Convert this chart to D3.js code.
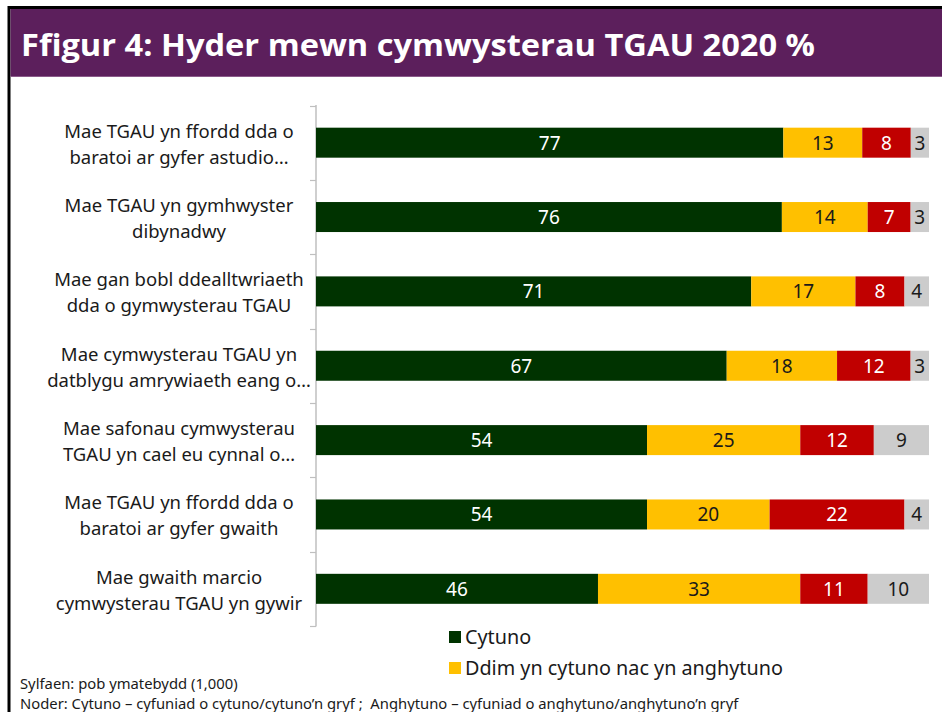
<!DOCTYPE html>
<html>
<head>
<meta charset="utf-8">
<script src="https://cdn.jsdelivr.net/npm/d3@7"></script>
<style>
  body { margin: 0; background: #fff; }
  svg { display: block; font-family: "Noto Sans", "Open Sans", sans-serif; }
</style>
</head>
<body>
<svg width="942" height="712"></svg>
<script>
// categories (two-line labels)
var categories = [
  ["Mae TGAU yn ffordd dda o", "baratoi ar gyfer astudio…"],
  ["Mae TGAU yn gymhwyster", "dibynadwy"],
  ["Mae gan bobl ddealltwriaeth", "dda o gymwysterau TGAU"],
  ["Mae cymwysterau TGAU yn", "datblygu amrywiaeth eang o…"],
  ["Mae safonau cymwysterau", "TGAU yn cael eu cynnal o…"],
  ["Mae TGAU yn ffordd dda o", "baratoi ar gyfer gwaith"],
  ["Mae gwaith marcio", "cymwysterau TGAU yn gywir"]
];
var seriesNames = ["Cytuno", "Ddim yn cytuno nac yn anghytuno", "Anghytuno", "Ddim yn gwybod"];
var cytuno     = [77, 76, 71, 67, 54, 54, 46];
var ddim       = [13, 14, 17, 18, 25, 20, 33];
var anghytuno  = [8, 7, 8, 12, 12, 22, 11];
var ddimGwybod = [3, 3, 4, 3, 9, 4, 10];
var colors = ["#003300", "#ffc000", "#c00000", "#cccccc"];
var textColors = ["#fff", "#1a1a1a", "#fff", "#1a1a1a"];

var svg = d3.select("svg");

// frame + title band
svg.append("line").attr("x1", 9).attr("x2", 942).attr("y1", 7.5).attr("y2", 7.5)
  .attr("stroke", "#000").attr("stroke-width", 3);
svg.append("line").attr("x1", 9).attr("x2", 9).attr("y1", 6).attr("y2", 712)
  .attr("stroke", "#000").attr("stroke-width", 3);
svg.append("rect").attr("x", 10.5).attr("y", 9).attr("width", 932).attr("height", 67)
  .attr("fill", "#5c1f5c");
svg.append("line").attr("x1", 10.5).attr("x2", 942).attr("y1", 76.5).attr("y2", 76.5)
  .attr("stroke", "#8a5a8a").attr("stroke-width", 1);
svg.append("text").attr("x", 21).attr("y", 56)
  .attr("fill", "#fff").attr("font-size", 31).attr("font-weight", "bold")
  .attr("font-family", "'Open Sans', sans-serif")
  .attr("textLength", 794).attr("lengthAdjust", "spacingAndGlyphs")
  .text("Ffigur 4: Hyder mewn cymwysterau TGAU 2020 %");

// build stacked, normalised rows
var rows = categories.map(function(c, i) {
  var vals = [cytuno[i], ddim[i], anghytuno[i], ddimGwybod[i]];
  var total = d3.sum(vals);
  var acc = 0;
  return vals.map(function(v, k) {
    var seg = { row: i, k: k, value: v, x0: acc / total, x1: (acc + v) / total };
    acc += v;
    return seg;
  });
});

var x = d3.scaleLinear().domain([0, 1]).range([316, 929]);
var yOuter = d3.scaleBand().domain(d3.range(categories.length)).range([105.5, 626]);

// axis line with ticks
var axisG = svg.append("g");
axisG.append("line").attr("x1", 316).attr("x2", 316).attr("y1", 105).attr("y2", 626.5)
  .attr("stroke", "#bfbfbf").attr("stroke-width", 1.5);
var tickPos = d3.range(categories.length + 1).map(function(i) { return 105.5 + i * yOuter.step(); });
axisG.selectAll(".tk").data(tickPos).enter().append("line")
  .attr("x1", 310).attr("x2", 316)
  .attr("y1", function(d) { return Math.round(d) + 0.5; })
  .attr("y2", function(d) { return Math.round(d) + 0.5; })
  .attr("stroke", "#bfbfbf").attr("stroke-width", 1.2);

// bars
var segs = d3.merge(rows);
svg.append("g").selectAll("rect").data(segs).enter().append("rect")
  .attr("x", function(d) { return x(d.x0); })
  .attr("width", function(d) { return x(d.x1) - x(d.x0); })
  .attr("y", function(d) { return yOuter(d.row) + yOuter.bandwidth() / 2 - 15; })
  .attr("height", 30)
  .attr("fill", function(d) { return colors[d.k]; });

svg.append("g").selectAll("text").data(segs).enter().append("text")
  .attr("x", function(d) { return (x(d.x0) + x(d.x1)) / 2; })
  .attr("y", function(d) { return yOuter(d.row) + yOuter.bandwidth() / 2 + 7; })
  .attr("text-anchor", "middle")
  .attr("font-size", 19)
  .attr("fill", function(d) { return textColors[d.k]; })
  .text(function(d) { return d.value; });

// category labels
var lab = svg.append("g").selectAll("text").data(categories).enter().append("text")
  .attr("text-anchor", "middle")
  .attr("font-size", 18.5)
  .attr("fill", "#1a1a1a");
lab.each(function(d, i) {
  var cy = yOuter(i) + yOuter.bandwidth() / 2;
  var t = d3.select(this);
  t.append("tspan").attr("x", 179).attr("y", cy - 5).text(d[0]);
  t.append("tspan").attr("x", 179).attr("y", cy + 21).text(d[1]);
});

// legend (only two entries visible)
var leg = svg.append("g").selectAll("g").data([0, 1]).enter().append("g")
  .attr("transform", function(d) { return "translate(449," + (631 + d * 31) + ")"; });
leg.append("rect").attr("width", 12).attr("height", 12)
  .attr("fill", function(d) { return colors[d]; });
leg.append("text").attr("x", 16).attr("y", 13).attr("font-size", 19.8).attr("fill", "#1a1a1a")
  .text(function(d) { return seriesNames[d]; });

// footnotes
svg.append("text").attr("x", 20).attr("y", 689).attr("font-size", 14.8).attr("fill", "#1a1a1a")
  .text("Sylfaen: pob ymatebydd (1,000)");
svg.append("text").attr("x", 20).attr("y", 709).attr("font-size", 14.8).attr("fill", "#1a1a1a")
  .attr("xml:space", "preserve")
  .text("Noder: Cytuno – cyfuniad o cytuno/cytuno’n gryf ;  Anghytuno – cyfuniad o anghytuno/anghytuno’n gryf");
</script>
</body>
</html>
